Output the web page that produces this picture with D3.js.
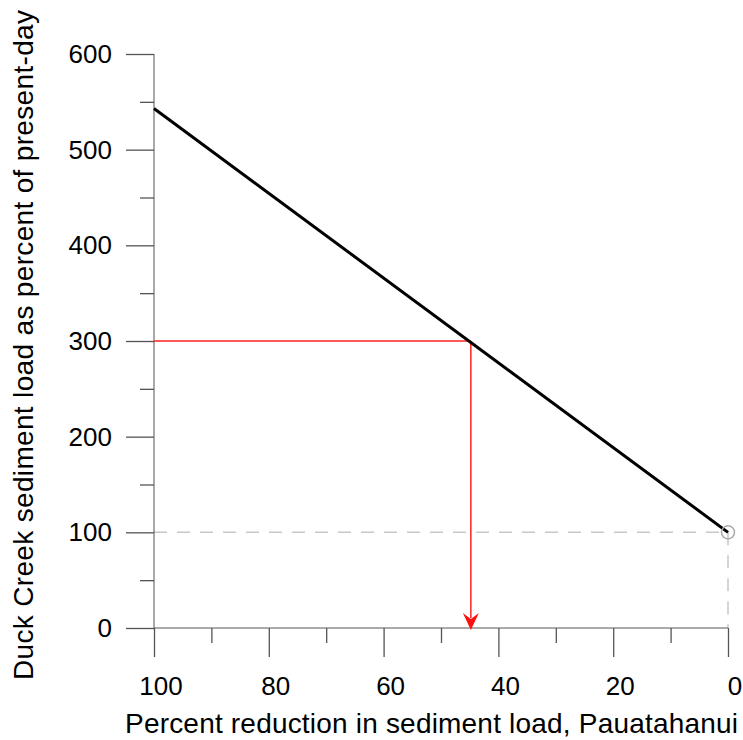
<!DOCTYPE html>
<html>
<head>
<meta charset="utf-8">
<script src="https://cdn.jsdelivr.net/npm/d3@7"></script>
<style>
  body { margin: 0; background: #fff; }
  svg { display: block; font-family: "Liberation Sans", Arial, sans-serif; }
</style>
</head>
<body>
<div id="chart"></div>
<script>
// relationship: reduction in Pauatahanui load vs Duck Creek load
const reduction = [100, 0];
const duckLoad = [543, 100];

// worked example (red guide)
const targetLoad = 300;
const targetReduction = 44.8;

// present-day reference point
const refReduction = 0;
const refLoad = 100;

const xTicks = [100, 80, 60, 40, 20, 0];
const xMinor = [90, 70, 50, 30, 10];
const yTicks = [0, 100, 200, 300, 400, 500, 600];
const yMinor = [50, 150, 250, 350, 450, 550];

const width = 743;
const height = 740;
const margin = { top: 54, right: 15, bottom: 112, left: 154 };

const svg = d3.select("#chart").append("svg")
    .attr("width", width)
    .attr("height", height);

const x = d3.scaleLinear()
    .domain([100, 0])
    .range([margin.left, width - margin.right]);

const y = d3.scaleLinear()
    .domain([0, 600])
    .range([height - margin.bottom, margin.top]);

const axisColor = "#555";

// gray dashed reference lines
svg.append("line")
    .attr("x1", x(100)).attr("x2", x(refReduction))
    .attr("y1", y(refLoad)).attr("y2", y(refLoad))
    .attr("stroke", "#c8c8c8").attr("stroke-width", 1.5)
    .attr("stroke-dasharray", "13,10");

svg.append("line")
    .attr("x1", x(refReduction)).attr("x2", x(refReduction))
    .attr("y1", y(refLoad)).attr("y2", y(0))
    .attr("stroke", "#c8c8c8").attr("stroke-width", 1.5)
    .attr("stroke-dasharray", "13,10");

// x axis: major ticks
svg.append("g")
    .attr("transform", `translate(0,${y(0)})`)
    .call(d3.axisBottom(x).tickValues(xTicks).tickSize(29).tickFormat(""))
    .call(g => g.select(".domain").attr("stroke", axisColor).attr("d", `M${x(100)},0H${x(0)}`))
    .call(g => g.selectAll(".tick line").attr("stroke", axisColor).attr("stroke-width", 1.3));

// x axis: minor ticks
svg.append("g")
    .attr("transform", `translate(0,${y(0)})`)
    .call(d3.axisBottom(x).tickValues(xMinor).tickSize(15).tickFormat(""))
    .call(g => g.select(".domain").remove())
    .call(g => g.selectAll(".tick line").attr("stroke", axisColor).attr("stroke-width", 1.3));

// x tick labels
svg.append("g")
    .selectAll("text")
    .data(xTicks)
    .join("text")
    .attr("x", d => x(d) + 7)
    .attr("y", 695)
    .attr("text-anchor", "middle")
    .attr("font-size", 26)
    .attr("fill", "#000")
    .text(d => d);

// y axis: major ticks
svg.append("g")
    .attr("transform", `translate(${x(100)},0)`)
    .call(d3.axisLeft(y).tickValues(yTicks).tickSize(28).tickFormat(""))
    .call(g => g.select(".domain").attr("stroke", axisColor).attr("d", `M0,${y(0)}V${y(600)}`))
    .call(g => g.selectAll(".tick line").attr("stroke", axisColor).attr("stroke-width", 1.3));

// y axis: minor ticks
svg.append("g")
    .attr("transform", `translate(${x(100)},0)`)
    .call(d3.axisLeft(y).tickValues(yMinor).tickSize(14).tickFormat(""))
    .call(g => g.select(".domain").remove())
    .call(g => g.selectAll(".tick line").attr("stroke", axisColor).attr("stroke-width", 1.3));

// y tick labels
svg.append("g")
    .selectAll("text")
    .data(yTicks)
    .join("text")
    .attr("x", 112)
    .attr("y", d => y(d))
    .attr("dy", "0.35em")
    .attr("text-anchor", "end")
    .attr("font-size", 26)
    .attr("fill", "#000")
    .text(d => d);

// red guide lines
svg.append("line")
    .attr("x1", x(100)).attr("x2", x(targetReduction))
    .attr("y1", y(targetLoad)).attr("y2", y(targetLoad))
    .attr("stroke", "#ff2020").attr("stroke-width", 1.5);

svg.append("line")
    .attr("x1", x(targetReduction)).attr("x2", x(targetReduction))
    .attr("y1", y(targetLoad)).attr("y2", y(0) - 10)
    .attr("stroke", "#ff2020").attr("stroke-width", 1.5);

// arrowhead
const ax = x(targetReduction), ay = y(0) + 2;
svg.append("path")
    .attr("d", `M${ax},${ay}L${ax - 8},${ay - 17}L${ax},${ay - 11}L${ax + 8},${ay - 17}Z`)
    .attr("fill", "#ff1010");

// main line
const line = d3.line()
    .x((d, i) => x(reduction[i]))
    .y(d => y(d));

svg.append("path")
    .datum(duckLoad)
    .attr("fill", "none")
    .attr("stroke", "#000")
    .attr("stroke-width", 3)
    .attr("d", line);

// reference point circle
svg.append("circle")
    .attr("cx", x(refReduction))
    .attr("cy", y(refLoad))
    .attr("r", 6.5)
    .attr("fill", "none")
    .attr("stroke", "#aaa")
    .attr("stroke-width", 1.5);

// axis titles
svg.append("text")
    .attr("x", 125)
    .attr("y", 733)
    .attr("font-size", 28)
    .attr("textLength", 613)
    .attr("lengthAdjust", "spacing")
    .attr("fill", "#000")
    .text("Percent reduction in sediment load, Pauatahanui");

svg.append("text")
    .attr("transform", "translate(33,680) rotate(-90)")
    .attr("font-size", 28)
    .attr("textLength", 670)
    .attr("lengthAdjust", "spacing")
    .attr("fill", "#000")
    .text("Duck Creek sediment load as percent of present-day");
</script>
</body>
</html>
